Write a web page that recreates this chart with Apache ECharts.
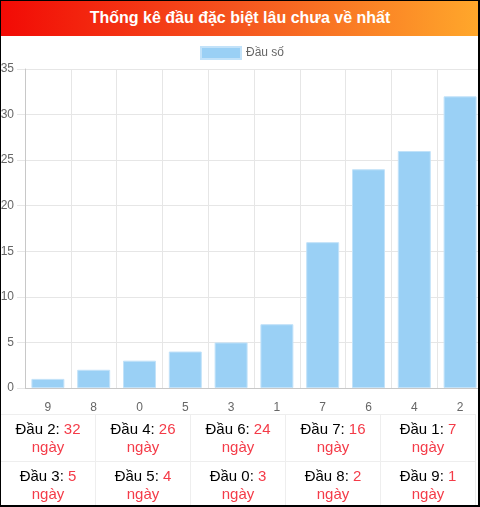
<!DOCTYPE html>
<html>
<head>
<meta charset="utf-8">
<script src="https://cdn.jsdelivr.net/npm/echarts@6/dist/echarts.min.js"></script>
<style>
  html, body { margin: 0; padding: 0; width: 480px; height: 507px; overflow: hidden; background: #fff; }
  body { position: relative; font-family: "Liberation Sans", Arial, sans-serif; }
  #title {
    position: absolute; left: 0; top: 0; width: 480px; height: 36px;
    background: linear-gradient(to right, #f20a05, #f5561f 50%, #ffa82b);
    color: #fff; font-weight: bold; font-size: 16px; line-height: 36px; text-align: center;
  }
  #chart { position: absolute; left: 0; top: 36px; width: 484px; height: 381px; }
  #stats { position: absolute; left: 0; top: 414px; border-collapse: collapse; table-layout: fixed; }
  #stats td {
    width: 94px; height: 46px; padding: 0; border: 1px solid #eee;
    text-align: center; font-size: 15px; line-height: 18px; color: #000;
  }
  #stats .red { color: #f43b48; }
  #frame {
    position: absolute; left: 0; top: 0; width: 480px; height: 507px; box-sizing: border-box;
    border-top: 1px solid #000; border-left: 1px solid #000;
    border-right: 2px solid #000; border-bottom: 2px solid #000;
    pointer-events: none;
  }
</style>
</head>
<body>
<div id="title">Thống kê đầu đặc biệt lâu chưa về nhất</div>
<div id="chart"></div>
<table id="stats"></table>
<div id="frame"></div>
<script>
// days since each head last appeared
const categories = ['9', '8', '0', '5', '3', '1', '7', '6', '4', '2'];
const values = [1, 2, 3, 4, 5, 7, 16, 24, 26, 32];
const yTicks = [0, 5, 10, 15, 20, 25, 30, 35];

const chart = echarts.init(document.getElementById('chart'), null, { renderer: 'canvas' });

const gridColor = '#e6e6e6';
const labelFont = { color: '#666', fontSize: 12, fontFamily: 'Liberation Sans, Arial, sans-serif' };

chart.setOption({
  animation: false,
  legend: {
    data: ['Đầu số'],
    icon: 'rect',
    top: 5,
    left: 'center',
    itemWidth: 40,
    itemHeight: 12,
    itemGap: 10,
    textStyle: labelFont
  },
  grid: { left: 25, right: 1, top: 33, bottom: 29, outerBoundsMode: 'none', containLabel: false },
  xAxis: {
    type: 'category',
    data: categories,
    axisLine: { lineStyle: { color: '#c8c8c8' } },
    axisTick: { length: 8, lineStyle: { color: gridColor } },
    axisLabel: Object.assign({ margin: 14 }, labelFont),
    splitLine: { show: true, lineStyle: { color: gridColor } }
  },
  yAxis: {
    type: 'value',
    min: yTicks[0],
    max: yTicks[yTicks.length - 1],
    interval: 5,
    axisLine: { show: true, lineStyle: { color: '#c8c8c8' } },
    axisTick: { show: true, length: 8, lineStyle: { color: gridColor } },
    axisLabel: Object.assign({ margin: 11 }, labelFont),
    splitLine: { lineStyle: { color: gridColor } }
  },
  series: [
    {
      name: 'Đầu số',
      type: 'bar',
      data: values,
      barWidth: '72%',
      itemStyle: {
        color: '#9ad0f5',
        borderColor: '#c2e2f9',
        borderWidth: 1
      }
    }
  ]
});

// table below the chart: longest absence first
const order = values.map((v, i) => i).sort((a, b) => values[b] - values[a]);
const table = document.getElementById('stats');
for (let r = 0; r < 2; r++) {
  const tr = document.createElement('tr');
  for (let c = 0; c < 5; c++) {
    const i = order[r * 5 + c];
    const td = document.createElement('td');
    td.innerHTML = 'Đầu ' + categories[i] + ': <span class="red">' + values[i] +
      '</span><br><span class="red">ngày</span>';
    tr.appendChild(td);
  }
  table.appendChild(tr);
}
</script>
</body>
</html>
